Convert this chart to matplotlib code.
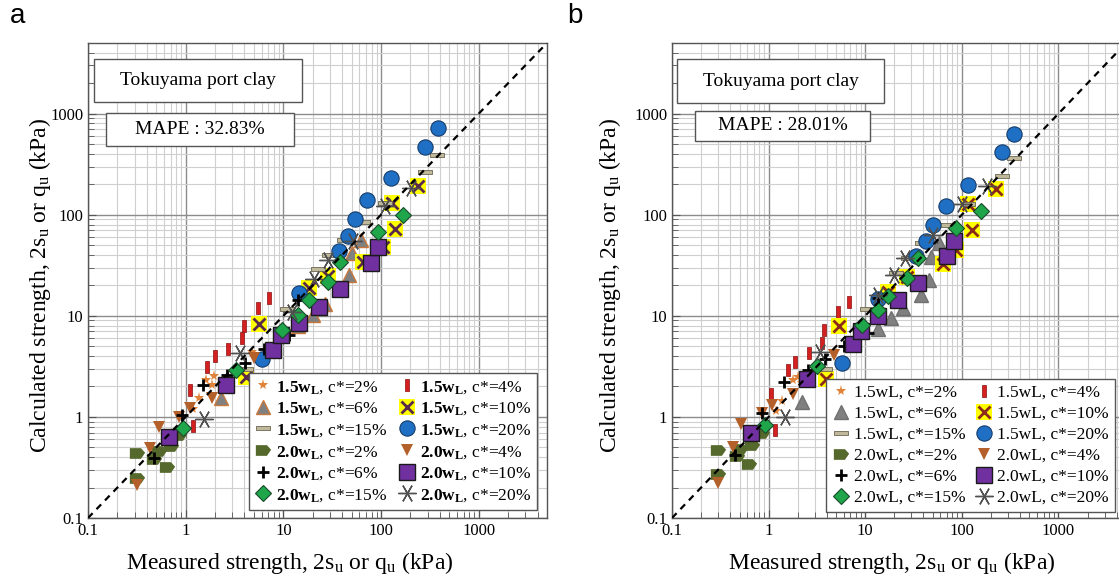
import numpy as np
import matplotlib
matplotlib.use("Agg")
import matplotlib.pyplot as plt
from matplotlib.lines import Line2D
from matplotlib.patches import Rectangle
from matplotlib.path import Path

plt.rcParams['font.family'] = ['Liberation Serif', 'DejaVu Serif']
plt.rcParams['mathtext.fontset'] = 'custom'
plt.rcParams['mathtext.rm'] = 'Liberation Serif'
plt.rcParams['mathtext.it'] = 'Liberation Serif:italic'
plt.rcParams['mathtext.bf'] = 'Liberation Serif:bold'

# ---- data: (measured, calculated) in kPa ----
# panel a
a_15_2 = [(1.2, 1.2), (1.37, 1.55), (1.6, 2.3), (1.85, 2.05), (1.95, 2.55), (4.8, 4.4)]
a_15_4 = [(1.19, 0.81), (1.10, 1.85), (1.66, 3.15), (1.98, 3.96), (2.72, 4.68), (3.81, 6.0), (3.97, 7.85), (5.44, 11.9), (7.17, 15.0)]
a_15_6 = [(2.3, 1.53), (14, 8.0), (20, 10.2), (26.4, 13.0), (47, 25.5), (51, 42), (62, 56)]
a_15_10 = [(4.1, 2.5), (5.6, 8.3), (18.5, 18.8), (28.5, 24.5), (65, 34), (105, 48), (128, 132), (138, 72), (240, 191)]
a_15_15 = [(4.1, 3.0), (11, 11.6), (22.5, 29), (29.6, 39.6), (42, 56.6), (65, 84), (109, 132), (282, 267), (372, 393)]
a_15_20 = [(6.1, 3.7), (14.4, 16.8), (37, 44), (46, 62), (54, 91), (72, 139), (126, 229), (282, 468), (386, 721)]
a_20_2 = [(0.32, 0.44), (0.32, 0.25), (0.47, 0.38), (0.53, 0.46), (0.65, 0.32), (0.70, 0.52), (0.85, 0.66)]
a_20_4 = [(0.32, 0.21), (0.435, 0.49), (0.53, 0.8), (0.85, 1.0), (1.1, 1.22), (1.87, 1.53), (4.95, 3.8)]
a_20_6 = [(0.47, 0.39), (0.92, 1.05), (1.51, 2.07), (2.67, 2.6), (4.03, 3.4), (6.3, 4.7), (11.4, 6.5), (14, 14.4)]
a_20_10 = [(0.67, 0.64), (2.6, 2.07), (7.9, 4.6), (9.5, 6.4), (14.3, 8.5), (23.4, 12.2), (38, 18.4), (78, 33), (92, 47.5)]
a_20_15 = [(0.94, 0.77), (3.3, 2.9), (9.7, 7.3), (14.2, 10.2), (18.5, 14.2), (28.5, 21.4), (37.6, 33.7), (92, 67), (167, 100)]
a_20_20 = [(1.54, 0.95), (3.58, 4.27), (12.2, 10.8), (20.8, 23.1), (28.5, 35.9), (52, 55), (109, 121), (205, 184)]

# panel b
b_15_2 = [(1.2, 1.15), (1.37, 1.45), (1.8, 2.3), (2.0, 2.5), (2.2, 2.15)]
b_15_4 = [(1.17, 0.74), (1.07, 1.69), (1.59, 2.92), (1.89, 3.5), (2.6, 4.27), (3.57, 5.4), (3.72, 7.3), (5.2, 10.8), (6.8, 13.6)]
b_15_6 = [(2.2, 1.4), (13.6, 7.4), (18.6, 9.6), (24.8, 12.0), (37.5, 16.2), (46, 22.8), (48, 38), (58.5, 52)]
b_15_10 = [(3.9, 2.36), (5.3, 8.0), (17.4, 17.4), (27, 24.2), (64, 32.7), (87, 45), (117, 128), (127, 70), (224, 181)]
b_15_15 = [(3.8, 3.0), (10.4, 11.6), (21, 26.5), (28, 37), (38.5, 52.5), (65.5, 78.5), (117, 128), (259, 243), (347, 364)]
b_15_20 = [(5.75, 3.4), (13.4, 14.6), (33.6, 38.7), (42.6, 54.5), (50, 79.6), (68.7, 121), (117, 198), (263, 414), (347, 634)]
b_20_2 = [(0.30, 0.47), (0.30, 0.27), (0.47, 0.41), (0.51, 0.48), (0.62, 0.34), (0.67, 0.53), (0.86, 0.69)]
b_20_4 = [(0.30, 0.22), (0.43, 0.5), (0.52, 0.86), (0.85, 1.1), (1.08, 1.31), (1.78, 1.67), (4.75, 4.1)]
b_20_6 = [(0.45, 0.42), (0.86, 1.1), (1.44, 2.23), (2.55, 2.92), (3.8, 3.7), (6.0, 5.0), (10.8, 6.8), (13.7, 15)]
b_20_10 = [(0.65, 0.69), (2.5, 2.36), (7.4, 5.3), (9.0, 7.0), (13.4, 9.9), (22, 14.2), (35.5, 21), (71, 38.7), (83, 54.5)]
b_20_15 = [(0.91, 0.83), (3.2, 3.2), (9.2, 8.1), (13.4, 11.3), (17.4, 15.8), (27, 23.6), (35.5, 37), (87, 74), (157, 110)]
b_20_20 = [(1.49, 1.0), (3.4, 4.4), (13.7, 16), (20, 25.5), (26, 37), (50, 63), (100, 128), (184, 194)]

SERIES_A = [a_15_2, a_15_4, a_15_6, a_15_10, a_15_15, a_15_20, a_20_2, a_20_4, a_20_6, a_20_10, a_20_15, a_20_20]
SERIES_B = [b_15_2, b_15_4, b_15_6, b_15_10, b_15_15, b_15_20, b_20_2, b_20_4, b_20_6, b_20_10, b_20_15, b_20_20]
KEYS = [("1.5", "2"), ("1.5", "4"), ("1.5", "6"), ("1.5", "10"), ("1.5", "15"), ("1.5", "20"),
        ("2.0", "2"), ("2.0", "4"), ("2.0", "6"), ("2.0", "10"), ("2.0", "15"), ("2.0", "20")]
MAPE = ["32.83%", "28.01%"]
TICKS = [0.1, 1, 10, 100, 1000]
TICKLAB = ["0.1", "1", "10", "100", "1000"]
LIM = (0.1, 5000)

vbar = Path([(-0.3, -1), (0.3, -1), (0.3, 1), (-0.3, 1), (-0.3, -1)], closed=True)
hbar = Path([(-1, -0.28), (1, -0.28), (1, 0.28), (-1, 0.28), (-1, -0.28)], closed=True)
flag = Path([(-1, -0.7), (0.45, -0.7), (1, 0.1), (0.45, 0.7), (-1, 0.7), (-1, -0.7)], closed=True)

def styles(panel):
    tri_edge = "#c8783c" if panel == "a" else "#707070"
    xcol = "#5a2a4a" if panel == "a" else "#8b2a1a"
    return [
        [dict(marker="*", ms=8, mfc="#e0843c", mec="#e0843c", mew=0)],
        [dict(marker=vbar, ms=9, mfc="#d42020", mec="#8a1010", mew=0.5)],
        [dict(marker="^", ms=10, mfc="#808080", mec=tri_edge, mew=1)],
        [dict(marker="s", ms=11, mfc="#ffff00", mec="#ffff00", mew=0),
         dict(marker="x", ms=9, mfc="none", mec=xcol, mew=2)],
        [dict(marker=hbar, ms=10, mfc="#c0b89a", mec="#6b6650", mew=0.6)],
        [dict(marker="o", ms=11, mfc="#1f70c4", mec="#173d6b", mew=0.8)],
        [dict(marker=flag, ms=11, mfc="#56692c", mec="#56692c", mew=0)],
        [dict(marker="v", ms=9, mfc="#b4602a", mec="#b4602a", mew=0)],
        [dict(marker="+", ms=9, mfc="none", mec="black", mew=2)],
        [dict(marker="s", ms=11, mfc="#7030a0", mec="#1a1a1a", mew=1)],
        [dict(marker="D", ms=8, mfc="#1fa64a", mec="#1a4a2a", mew=0.8)],
        [dict(marker=(6, 2, 90), ms=13, mfc="none", mec="#505050", mew=1)],
    ]

fig = plt.figure(figsize=(11.19, 5.86), dpi=100)
W, H = 1119, 586
panels = [
    dict(tag="a", data=SERIES_A, rect=[88, 43, 459, 475], boxes=[(94, 59, 302, 102), (106, 113, 294, 146)],
         leg=(537, 510), lab=(18, 16), ylab=40, xlab=(290, 563)),
    dict(tag="b", data=SERIES_B, rect=[672, 43, 454, 475], boxes=[(677, 59, 884, 103), (695, 111, 870, 141)],
         leg=(1115, 512), lab=(575, 16), ylab=610, xlab=(892, 563)),
]

for k, p in enumerate(panels):
    x0, y0, w, h = p["rect"]
    ax = fig.add_axes([x0 / W, (H - y0 - h) / H, w / W, h / H])
    ax.set_xscale("log"); ax.set_yscale("log")
    ax.set_xlim(*LIM); ax.set_ylim(*LIM)
    ax.grid(True, which="major", color="#8c8c8c", lw=1.0, zorder=0)
    ax.grid(True, which="minor", color="#cfcfcf", lw=0.8, zorder=0)
    ax.set_axisbelow(True)
    ax.set_xticks(TICKS); ax.set_xticklabels(TICKLAB)
    ax.set_yticks(TICKS); ax.set_yticklabels(TICKLAB)
    ax.tick_params(which="both", direction="in", labelsize=12, color="#555555")
    ax.tick_params(which="major", length=6)
    ax.tick_params(which="minor", length=4)
    for s in ax.spines.values():
        s.set_color("#555555"); s.set_linewidth(1)

    ax.plot(LIM, LIM, ls=(0, (3, 2.5)), color="black", lw=1.6, zorder=5)

    st = styles(p["tag"])
    handles = []
    for ser, sty in zip(p["data"], st):
        xs = [v[0] for v in ser]; ys = [v[1] for v in ser]
        hs = []
        for d in sty:
            ax.plot(xs, ys, ls="none", zorder=4, **d)
            hs.append(Line2D([], [], ls="none", **d))
        handles.append(tuple(hs) if len(hs) > 1 else hs[0])

    if p["tag"] == "a":
        labels = [r"$\mathbf{%sw}_{\mathbf{L}}$, c*=%s%%" % (a, c) for a, c in KEYS]
    else:
        labels = ["%swL, c*=%s%%" % (a, c) for a, c in KEYS]
    order = [0, 2, 4, 6, 8, 10, 1, 3, 5, 7, 9, 11]
    lx, ly = p["leg"]
    leg = ax.legend([handles[i] for i in order], [labels[i] for i in order], ncol=2,
                    loc="lower right", bbox_to_anchor=((lx - x0) / w, (y0 + h - ly) / h),
                    fontsize=12.5, frameon=True, fancybox=False, framealpha=1, edgecolor="#555555",
                    borderaxespad=0, borderpad=0.35, labelspacing=0.28, handlelength=1.0,
                    handletextpad=0.25, columnspacing=0.6)
    leg.get_frame().set_linewidth(1)
    leg.set_zorder(10)

    texts = ["Tokuyama port clay", "MAPE : " + MAPE[k]]
    for (bx0, by0, bx1, by1), t in zip(p["boxes"], texts):
        fx0 = (bx0 - x0) / w; fx1 = (bx1 - x0) / w
        fy0 = (y0 + h - by1) / h; fy1 = (y0 + h - by0) / h
        ax.add_patch(Rectangle((fx0, fy0), fx1 - fx0, fy1 - fy0, transform=ax.transAxes,
                               facecolor="white", edgecolor="#555555", lw=1, zorder=9))
        ax.text((fx0 + fx1) / 2, (fy0 + fy1) / 2, t, transform=ax.transAxes, ha="center",
                va="center", fontsize=14, zorder=10)

    fig.text(p["lab"][0] / W, 1 - p["lab"][1] / H, p["tag"], fontsize=20, ha="center", va="center",
             family=["Liberation Sans", "DejaVu Sans"])
    fig.text(p["ylab"] / W, 1 - 285 / H, r"Calculated strength, 2s$_\mathrm{u}$ or q$_\mathrm{u}$ (kPa)",
             rotation=90, ha="center", va="center", fontsize=17)
    fig.text(p["xlab"][0] / W, 1 - p["xlab"][1] / H, r"Measured strength, 2s$_\mathrm{u}$ or q$_\mathrm{u}$ (kPa)",
             ha="center", va="center", fontsize=17)

fig.savefig("out.png", dpi=100)
